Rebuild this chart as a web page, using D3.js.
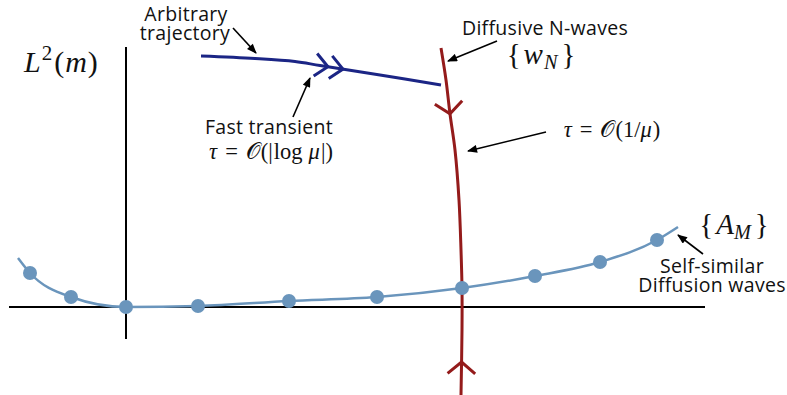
<!DOCTYPE html>
<html><head><meta charset="utf-8">
<script src="https://cdn.jsdelivr.net/npm/d3@7"></script>
<style>body{margin:0;background:#fff} svg{display:block}</style>
</head><body>
<script>
// Self-similar diffusion waves {A_M}: marked members and the curve through them
const memberX = [-0.96, -0.55, 0, 0.72, 1.63, 2.51, 3.36, 4.09, 4.74, 5.31];
const memberY = [0.34, 0.10, 0, 0.01, 0.06, 0.10, 0.19, 0.31, 0.45, 0.67];
const familyEndsX = [-1.08, 5.52];
const familyEndsY = [0.49, 0.80];

// Diffusive N-waves {w_N}
const nWaveX = [3.15, 3.20, 3.24, 3.29, 3.33, 3.35, 3.36, 3.36, 3.35];
const nWaveY = [2.59, 2.27, 1.93, 1.57, 1.07, 0.57, 0.19, -0.23, -0.88];
const nWaveArrowY = [1.93, -0.55];      // flow direction markers
const nWaveArrowDir = [1, -1];          // +1 along the drawn order, -1 against it

// Arbitrary trajectory with its fast transient
const trajX = [0.75, 1.29, 1.69, 1.94, 2.54, 3.15];
const trajY = [2.51, 2.485, 2.455, 2.415, 2.32, 2.22];
const trajArrowX = [2.02, 2.17];

// Coordinate axes
const axisXExtent = [-1.17, 5.79];
const axisYExtent = [-0.32, 2.60];

const W = 787, H = 395;
const x = d3.scaleLinear().domain([0, 1]).range([126, 226]);
const y = d3.scaleLinear().domain([0, 1]).range([307, 207]);

const svg = d3.select("body").append("svg").attr("width", W).attr("height", H);

const C = { traj: "#1b2585", nwave: "#941b1b", family: "#6a95bc", ink: "#000" };

// axes
svg.append("line")
  .attr("x1", x(axisXExtent[0])).attr("x2", x(axisXExtent[1]))
  .attr("y1", y(0)).attr("y2", y(0))
  .attr("stroke", C.ink).attr("stroke-width", 2);
svg.append("line")
  .attr("x1", x(0)).attr("x2", x(0))
  .attr("y1", y(axisYExtent[1])).attr("y2", y(axisYExtent[0]))
  .attr("stroke", C.ink).attr("stroke-width", 2);

// family curve
const familyPts = [[familyEndsX[0], familyEndsY[0]]]
  .concat(memberX.map((v, i) => [v, memberY[i]]))
  .concat([[familyEndsX[1], familyEndsY[1]]]);
svg.append("path")
  .attr("d", d3.line().x(d => x(d[0])).y(d => y(d[1])).curve(d3.curveMonotoneX)(familyPts))
  .attr("fill", "none").attr("stroke", C.family).attr("stroke-width", 2.5);

// chevron helper: arrow tip on a path at the point closest to a target coordinate
function chevron(pathNode, axis, target, dir, len, ang, color, width) {
  const L = pathNode.getTotalLength();
  let best = 0, bd = Infinity;
  for (let t = 0; t <= L; t += 0.25) {
    const p = pathNode.getPointAtLength(t);
    const d = Math.abs((axis === "x" ? p.x : p.y) - target);
    if (d < bd) { bd = d; best = t; }
  }
  const tip = pathNode.getPointAtLength(best);
  const a = pathNode.getPointAtLength(Math.max(0, best - 2));
  const b = pathNode.getPointAtLength(Math.min(L, best + 2));
  let dx = (b.x - a.x) * dir, dy = (b.y - a.y) * dir;
  const n = Math.hypot(dx, dy); dx /= n; dy /= n;
  const back = Math.atan2(-dy, -dx);
  const r = ang * Math.PI / 180;
  const p1 = [tip.x + len * Math.cos(back + r), tip.y + len * Math.sin(back + r)];
  const p2 = [tip.x + len * Math.cos(back - r), tip.y + len * Math.sin(back - r)];
  svg.append("path")
    .attr("d", `M${p1[0]},${p1[1]}L${tip.x},${tip.y}L${p2[0]},${p2[1]}`)
    .attr("fill", "none").attr("stroke", color).attr("stroke-width", width)
    .attr("stroke-linejoin", "miter");
}

// N-wave branch
const nPath = svg.append("path")
  .attr("d", d3.line().x(d => x(d)).y((d, i) => y(nWaveY[i])).curve(d3.curveCatmullRom)(nWaveX))
  .attr("fill", "none").attr("stroke", C.nwave).attr("stroke-width", 3);
nWaveArrowY.forEach((v, i) => chevron(nPath.node(), "y", y(v), nWaveArrowDir[i], 18, 50, C.nwave, 3));

// trajectory
const tPath = svg.append("path")
  .attr("d", d3.line().x(d => x(d)).y((d, i) => y(trajY[i])).curve(d3.curveCatmullRom)(trajX))
  .attr("fill", "none").attr("stroke", C.traj).attr("stroke-width", 3);
trajArrowX.forEach(v => chevron(tPath.node(), "x", x(v), 1, 17, 42, C.traj, 3));

// member dots
svg.selectAll("circle.member").data(memberX).enter().append("circle")
  .attr("class", "member")
  .attr("cx", d => x(d)).attr("cy", (d, i) => y(memberY[i]))
  .attr("r", 7).attr("fill", C.family);

// callout arrows
const defs = svg.append("defs");
defs.append("marker").attr("id", "head")
  .attr("viewBox", "0 0 10 8").attr("refX", 9).attr("refY", 4)
  .attr("markerWidth", 11).attr("markerHeight", 8)
  .attr("markerUnits", "userSpaceOnUse").attr("orient", "auto")
  .append("path").attr("d", "M0,0L10,4L0,8Z").attr("fill", C.ink);

const callouts = [
  [233, 28, 256, 53],
  [293, 117, 310, 78],
  [497, 41, 448, 61],
  [546, 132, 468, 151],
  [703, 254, 678, 235]
];
svg.selectAll("line.callout").data(callouts).enter().append("line")
  .attr("class", "callout")
  .attr("x1", d => d[0]).attr("y1", d => d[1]).attr("x2", d => d[2]).attr("y2", d => d[3])
  .attr("stroke", C.ink).attr("stroke-width", 1.6).attr("marker-end", "url(#head)");

// plain labels
const SANS = "'Open Sans', 'Liberation Sans', sans-serif";
const labels = [
  ["Arbitrary", 186, 21],
  ["trajectory", 185, 40],
  ["Diffusive N-waves", 545, 35],
  ["Fast transient", 269, 134],
  ["Self-similar", 712, 273],
  ["Diffusion waves", 712, 292]
];
svg.selectAll("text.lab").data(labels).enter().append("text")
  .attr("class", "lab")
  .attr("x", d => d[1]).attr("y", d => d[2])
  .attr("text-anchor", "middle")
  .attr("font-family", SANS).attr("font-size", 19.5)
  .attr("letter-spacing", 0.3).attr("fill", "#111")
  .text(d => d[0]);

// math labels built from segments: [text, italic, dy, sizeFactor, dx]
const SERIF = "'Liberation Serif', 'DejaVu Serif', serif";
function math(segs, px, py, size, anchor) {
  const t = svg.append("text").attr("x", px).attr("y", py)
    .attr("text-anchor", anchor).attr("font-family", SERIF)
    .attr("font-size", size).attr("fill", "#111");
  segs.forEach(s => {
    t.append("tspan").text(s[0])
      .attr("font-style", s[1] ? "italic" : "normal")
      .attr("dy", s[2] || 0)
      .attr("dx", s[4] || 0)
      .attr("font-size", s[3] ? size * s[3] : null);
  });
  return t;
}

math([["L", 1], ["2", 0, -12, 0.7, 1], ["(", 0, 12, 0, 2], ["m", 1, 0, 0, 1], [")", 0, 0, 0, 1]], 24, 72, 30, "start");
math([["{", 0], ["w", 1, 0, 0, 3], ["N", 1, 5, 0.7, 1], ["}", 0, -5, 0, 4]], 541, 64, 29, "middle");
math([["{", 0], ["A", 1, 0, 0, 3], ["M", 1, 5, 0.7, 0], ["}", 0, -5, 0, 4]], 734, 234, 29, "middle");
math([["τ", 1], ["=", 0, 0, 0, 8], ["𝒪", 0, 0, 0, 8], ["(|", 0, 0, 0, 1], ["log", 0, 0, 0, 1], ["μ", 1, 0, 0, 6], ["|)", 0, 0, 0, 1]], 271, 159, 22.5, "middle");
math([["τ", 1], ["=", 0, 0, 0, 8], ["𝒪", 0, 0, 0, 8], ["(1/", 0, 0, 0, 1], ["μ", 1], [")", 0, 0, 0, 1]], 612, 137, 22.5, "middle");
</script>
</body></html>
